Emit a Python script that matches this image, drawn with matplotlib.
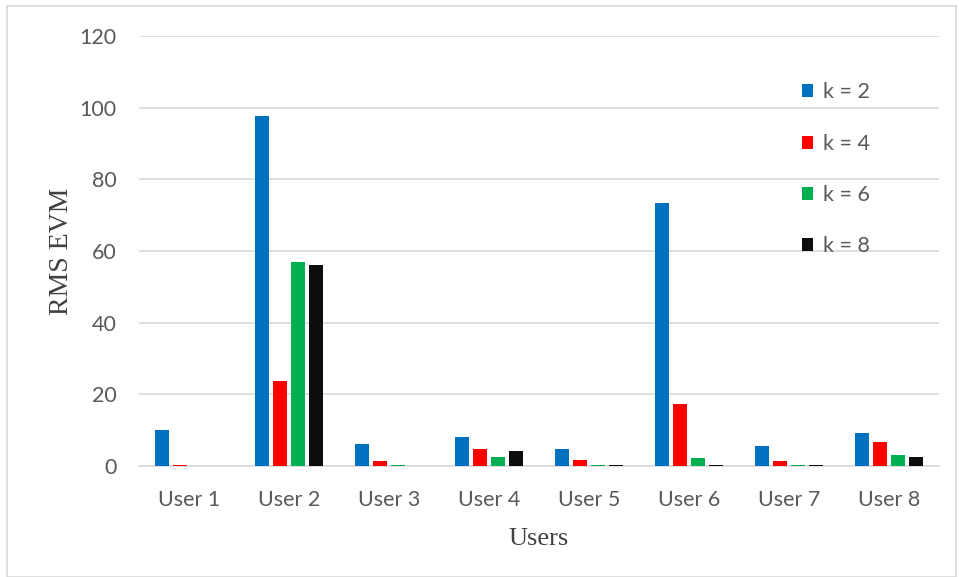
import matplotlib
matplotlib.use("Agg")
import matplotlib.pyplot as plt
import numpy as np
from matplotlib.patches import Rectangle

users = ["User 1", "User 2", "User 3", "User 4", "User 5", "User 6", "User 7", "User 8"]
k2 = [10.0, 97.6, 6.2, 8.1, 4.8, 73.3, 5.6, 9.2]
k4 = [0.4, 23.6, 1.3, 4.8, 1.7, 17.3, 1.3, 6.6]
k6 = [0.05, 56.8, 0.15, 2.4, 0.15, 2.1, 0.15, 3.2]
k8 = [0.05, 56.1, 0.05, 4.1, 0.2, 0.4, 0.2, 2.6]
series = [("k = 2", k2, "#0070C0"), ("k = 4", k4, "#FF0000"),
          ("k = 6", k6, "#00B050"), ("k = 8", k8, "#0D0D0D")]
yticks = [0, 20, 40, 60, 80, 100, 120]

fig = plt.figure(figsize=(9.59, 5.77), dpi=100)
fig.patches.append(Rectangle((7/959, 0.0), 949/959, 1 - 6/577, transform=fig.transFigure,
                             fill=False, edgecolor="#D9D9D9", linewidth=1.2))
ax = fig.add_axes([139/959, 1 - 466/577, 800/959, 430/577])

x = np.arange(len(users))
w = 0.14
step = 0.18
offsets = (np.arange(4) - 1.5) * step
for (lab, vals, col), off in zip(series, offsets):
    ax.bar(x + off, vals, width=w, color=col, label=lab, zorder=3)

ax.set_xlim(-0.5, len(users) - 0.5)
ax.set_ylim(0, 120)
ax.set_yticks(yticks)
ax.grid(axis="y", color="#D9D9D9", linewidth=1.2, zorder=0)
for s in ["top", "right", "left"]:
    ax.spines[s].set_visible(False)
ax.spines["bottom"].set_color("#D9D9D9")
ax.spines["bottom"].set_linewidth(1.2)
ax.tick_params(axis="both", length=0, labelsize=15.5, labelcolor="#595959")
ax.tick_params(axis="x", pad=17)
ax.tick_params(axis="y", pad=16)
ax.set_xticks(x)
ax.set_xticklabels(users)
for t in ax.get_xticklabels() + ax.get_yticklabels():
    t.set_fontfamily("Lato")

ax.set_ylabel("RMS EVM", fontfamily="Liberation Serif", fontsize=20, color="#404040", labelpad=4)
ax.set_xlabel("Users", fontfamily="Liberation Serif", fontsize=19, color="#404040", labelpad=13)

leg = ax.legend(loc="upper left", bbox_to_anchor=(0.804, 0.937), frameon=False,
                prop={"family": "Lato", "size": 15.5}, labelcolor="#595959",
                handlelength=0.55, handleheight=0.55, handletextpad=0.45, labelspacing=1.45)

fig.savefig("out.png", dpi=100)
